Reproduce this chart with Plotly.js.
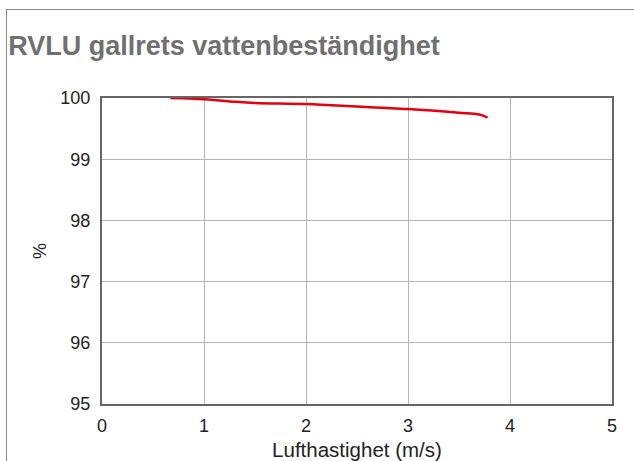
<!DOCTYPE html>
<html>
<head>
<meta charset="utf-8">
<script src="https://cdn.plot.ly/plotly-3.0.1.min.js"></script>
<style>
html,body{margin:0;padding:0;background:#fff;}
#wrap{position:relative;width:634px;height:461px;overflow:hidden;}
#frame{position:absolute;left:6px;top:9px;width:700px;height:500px;border-top:1.5px solid #8a8a8a;border-left:1.5px solid #8a8a8a;}
#chart{position:absolute;left:0;top:0;width:634px;height:461px;}
</style>
</head>
<body>
<div id="wrap"><div id="frame"></div><div id="chart"></div></div>
<script>
const chartTitle = "RVLU gallrets vattenbeständighet";
const xTitle = "Lufthastighet (m/s)";
const yTitle = "%";
const airSpeed = [0.67, 1.0, 1.3, 1.5, 2.0, 2.5, 2.75, 3.0, 3.5, 3.7, 3.78];
const resistance = [100, 99.98, 99.94, 99.92, 99.90, 99.86, 99.84, 99.82, 99.76, 99.73, 99.68];
const xTicks = [0, 1, 2, 3, 4, 5];
const yTicks = [95, 96, 97, 98, 99, 100];

const trace = {
  x: airSpeed, y: resistance, type: 'scatter', mode: 'lines',
  line: {color: '#e3000f', width: 2.5, shape: 'spline'},
  cliponaxis: false, hoverinfo: 'skip'
};
const layout = {
  width: 634, height: 461,
  paper_bgcolor: 'rgba(0,0,0,0)', plot_bgcolor: '#fff',
  margin: {l: 102, r: 22, t: 98, b: 57},
  showlegend: false,
  font: {family: 'Liberation Sans, Arial, sans-serif', color: '#222'},
  title: {text: '<b>' + chartTitle + '</b>', x: 0.013, xanchor: 'left', xref: 'container',
          y: 0.902, yanchor: 'middle', yref: 'container',
          font: {size: 27, color: '#707070', family: 'Liberation Sans, Arial, sans-serif'}},
  xaxis: {range: [0, 5], tickvals: xTicks, showgrid: true, gridcolor: '#b5b5b5', gridwidth: 1,
          zeroline: false, showline: true, linecolor: '#666', linewidth: 2, mirror: true,
          ticks: '', tickfont: {size: 18}, ticklabelstandoff: 4,
          title: {text: xTitle, font: {size: 20.5}, standoff: 12}},
  yaxis: {range: [95, 100], tickvals: yTicks, showgrid: true, gridcolor: '#b5b5b5', gridwidth: 1,
          zeroline: false, showline: true, linecolor: '#666', linewidth: 2, mirror: true,
          ticks: '', tickfont: {size: 18}, ticklabelstandoff: 6,
          title: {text: yTitle, font: {size: 18}, standoff: 9}}
};
Plotly.newPlot('chart', [trace], layout, {displayModeBar: false, staticPlot: true});
</script>
</body>
</html>
